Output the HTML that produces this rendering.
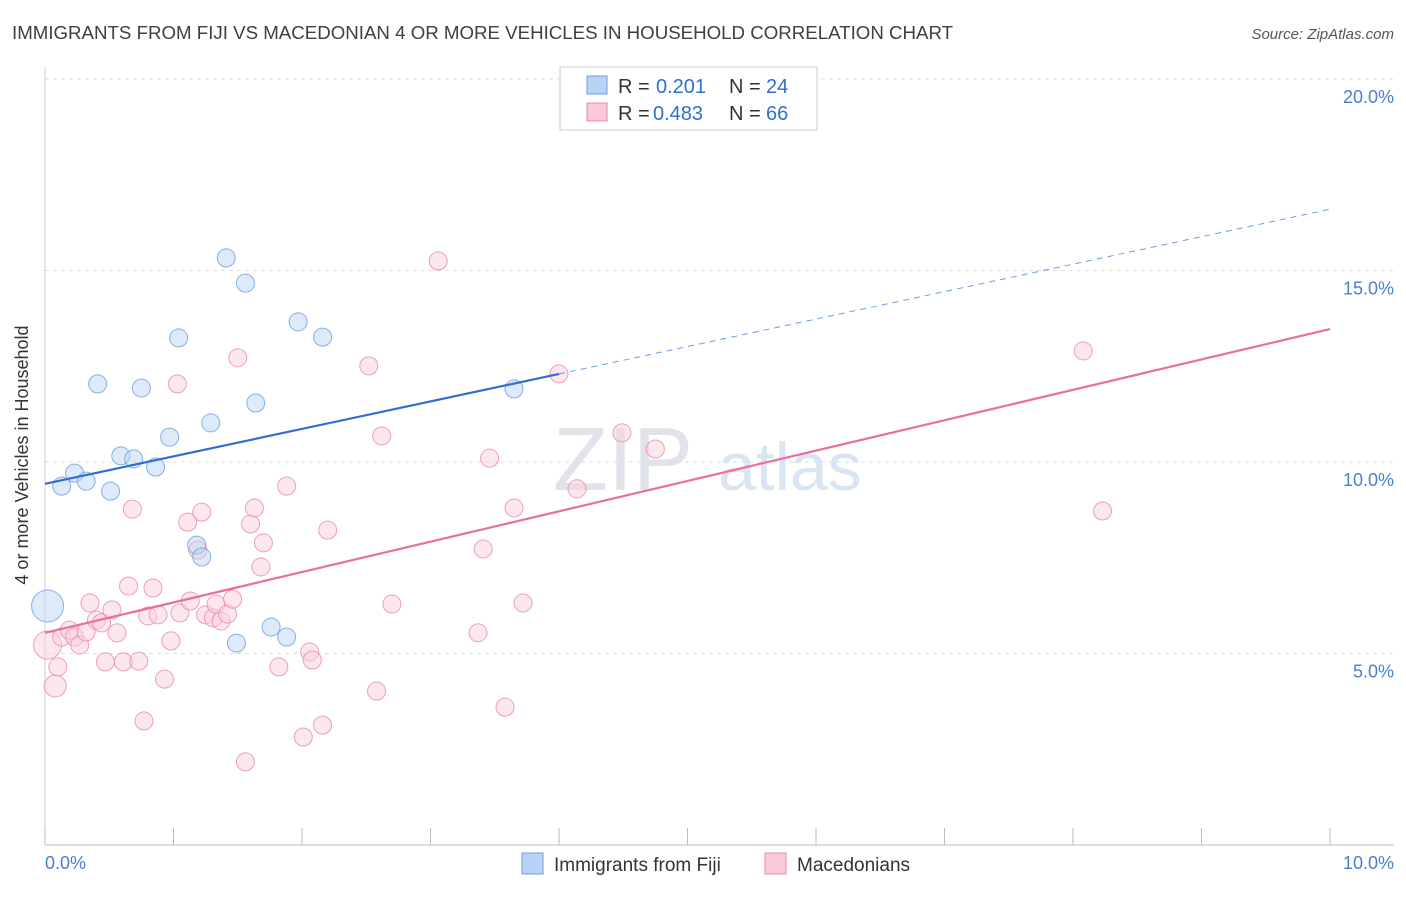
<!DOCTYPE html>
<html><head><meta charset="utf-8"><style>
body{margin:0;background:#fff;font-family:"Liberation Sans",sans-serif}
svg text{font-family:"Liberation Sans",sans-serif}
</style></head><body>
<svg id="chart" width="1406" height="892" xmlns="http://www.w3.org/2000/svg">
<text x="12" y="39" font-size="18.7" fill="#3c4043">IMMIGRANTS FROM FIJI VS MACEDONIAN 4 OR MORE VEHICLES IN HOUSEHOLD CORRELATION CHART</text>
<text x="1394" y="39" font-size="15" fill="#555" text-anchor="end" font-style="italic">Source: ZipAtlas.com</text>
<g id="grid"></g>
<g id="watermark" opacity="0.9">
<text x="553" y="490" font-size="90" font-family="Liberation Serif,serif" fill="#dde2e8">ZIP</text>
<text x="718" y="490" font-size="68" fill="#d5e3f2">atlas</text>
</g>
<g id="axes"></g>
<g id="marks"></g>
<text x="28" y="455" font-size="18" fill="#333" transform="rotate(-90 28 455)" text-anchor="middle">4 or more Vehicles in Household</text>
<text x="45" y="869" font-size="18" fill="#4a7fd4">0.0%</text>
<text x="1394" y="869" font-size="18" fill="#4a7fd4" text-anchor="end">10.0%</text>
<g>
<rect x="560" y="67" width="257" height="63" fill="#fff" stroke="#ccc"/>
<rect x="587" y="76" width="20" height="18" fill="#b9d3f5" stroke="#6a9fe0"/>
<rect x="587" y="103" width="20" height="18" fill="#fcc9d8" stroke="#e88aa8"/>
<text x="618" y="93" font-size="20" fill="#333">R =</text>
<text x="656" y="93" font-size="20" fill="#2f6fd0">0.201</text>
<text x="729" y="93" font-size="20" fill="#333">N =</text>
<text x="766" y="93" font-size="20" fill="#2f6fd0">24</text>
<text x="618" y="120" font-size="20" fill="#333">R =</text>
<text x="653" y="120" font-size="20" fill="#2f6fd0">0.483</text>
<text x="729" y="120" font-size="20" fill="#333">N =</text>
<text x="766" y="120" font-size="20" fill="#2f6fd0">66</text>
</g>
<g>
<rect x="522" y="853" width="21" height="21" fill="#b9d3f5" stroke="#6a9fe0"/>
<text x="554" y="871" font-size="19" fill="#333">Immigrants from Fiji</text>
<rect x="765" y="853" width="21" height="21" fill="#fcc9d8" stroke="#e88aa8"/>
<text x="797" y="871" font-size="19" fill="#333">Macedonians</text>
</g>
</svg>
<script>
const yTicks=[5,10,15,20];
const yTickLabels=["5.0%","10.0%","15.0%","20.0%"];
const fijiX=[0.02,0.13,0.23,0.32,0.41,0.51,0.59,0.69,0.75,0.86,0.97,1.04,1.18,1.22,1.29,1.41,1.49,1.56,1.64,1.76,1.88,1.97,2.16,3.65];
const fijiY=[6.24,9.37,9.71,9.50,12.04,9.24,10.16,10.08,11.93,9.87,10.65,13.24,7.83,7.52,11.02,15.33,5.27,14.67,11.54,5.69,5.43,13.66,13.26,11.91];
const macX=[0.02,0.08,0.10,0.13,0.19,0.23,0.27,0.32,0.35,0.40,0.44,0.47,0.52,0.56,0.61,0.65,0.68,0.73,0.77,0.80,0.84,0.88,0.93,0.98,1.03,1.05,1.11,1.13,1.19,1.22,1.25,1.31,1.33,1.37,1.42,1.46,1.50,1.56,1.60,1.63,1.68,1.70,1.82,1.88,2.01,2.06,2.08,2.16,2.20,2.52,2.58,2.62,2.70,3.06,3.37,3.41,3.46,3.58,3.65,3.72,4.00,4.14,4.49,4.75,8.08,8.23];
const macY=[5.22,4.15,4.65,5.43,5.61,5.43,5.22,5.56,6.32,5.87,5.80,4.78,6.14,5.54,4.78,6.76,8.77,4.80,3.24,5.98,6.71,6.01,4.33,5.33,12.04,6.06,8.43,6.37,7.70,8.69,6.01,5.93,6.29,5.85,6.03,6.42,12.72,2.17,8.38,8.80,7.26,7.89,4.65,9.37,2.82,5.04,4.83,3.13,8.22,12.51,4.02,10.68,6.29,15.25,5.54,7.73,10.10,3.60,8.80,6.32,12.30,9.30,10.76,10.34,12.90,8.72];
const fijiTrend=[9.43,16.60];
const macTrend=[5.54,13.47];
const NS="http://www.w3.org/2000/svg";
const X=v=>45+v*128.5, Y=v=>845-v*38.3;
function mk(tag,attrs,parent){const e=document.createElementNS(NS,tag);for(const k in attrs)e.setAttribute(k,attrs[k]);parent.appendChild(e);return e;}
const grid=document.getElementById('grid'),axes=document.getElementById('axes'),marks=document.getElementById('marks');
yTicks.forEach((t,i)=>{
 const l=mk('line',{x1:45,x2:1394,y1:Y(t),y2:Y(t),stroke:'#ddd','stroke-dasharray':'4,4'},grid);
 
 
 const tx=mk('text',{x:1394,y:Y(t)+24,'font-size':18,fill:'#4a7fd4','text-anchor':'end'},grid);
 tx.textContent=yTickLabels[i];
 
 
});
const xa=mk('line',{x1:45,x2:1394,y1:845,y2:845,stroke:'#bbb'},axes);


const ya=mk('line',{x1:45,x2:45,y1:67,y2:845,stroke:'#ccc'},axes);


for(let i=0;i<=10;i++){
 const tk=mk('line',{x1:X(i),x2:X(i),y1:828,y2:845,stroke:'#bbb'},axes);
 
 
}
function pts(xs,ys,fill,stroke,name){
 xs.forEach((x,i)=>{
  const r=i===0?(name==='fiji-point'?16:14):(name==='macedonian-point'&&i===1?11:9);
  const c=mk('circle',{cx:X(x),cy:Y(ys[i]),r:r,fill:fill,'fill-opacity':0.5,stroke:stroke,'stroke-width':1,'stroke-opacity':0.8},marks);
  
  
 });
}
pts(macX,macY,'#fbd0dd','#e88aa8','macedonian-point');
pts(fijiX,fijiY,'#bcd5f5','#6a9fe0','fiji-point');
const fy=x=>fijiTrend[0]+(fijiTrend[1]-fijiTrend[0])*x/10;
let l1=mk('line',{x1:X(0),y1:Y(fy(0)),x2:X(4),y2:Y(fy(4)),stroke:'#2f6fd0','stroke-width':2.2},marks);


let l2=mk('line',{x1:X(4),y1:Y(fy(4)),x2:X(10),y2:Y(fy(10)),stroke:'#6a9fe0','stroke-width':1,'stroke-dasharray':'6,5'},marks);


let l3=mk('line',{x1:X(0),y1:Y(macTrend[0]),x2:X(10),y2:Y(macTrend[1]),stroke:'#e8709a','stroke-width':2.2},marks);


</script>
</body></html>
